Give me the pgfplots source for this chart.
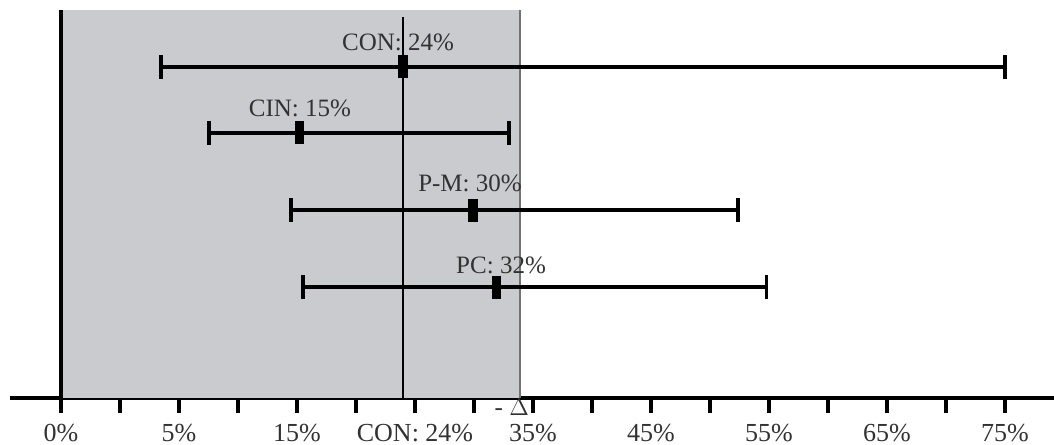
\documentclass[border=0pt]{standalone}
\usepackage{pgfplots}
\pgfplotsset{compat=1.18}
\usepackage{fontspec}
\setmainfont{Liberation Serif}
\definecolor{shade}{RGB}{202,203,206}
\definecolor{txt}{RGB}{50,50,50}
\begin{document}
\begin{tikzpicture}
\fontsize{12.5}{15}\selectfont
\begin{axis}[
  x=5.9pt, y=0.5pt,
  xmin=-9.32, xmax=79.15, ymin=46, ymax=434,
  axis x line=bottom, axis y line=none,
  x axis line style={-, line width=1.7pt},
  xtick={-5,0,...,75},
  xticklabels={0\%,,5\%,,15\%,,CON: 24\%,,35\%,,45\%,,55\%,,65\%,,75\%},
  tick align=outside,
  major tick length=7.5pt,
  xtick style={line width=1.7pt, black},
  xticklabel style={font=\fontsize{13}{15}\selectfont, text=txt, yshift=-1pt},
  clip=false,
]
\addplot[fill=shade, draw=none] coordinates {(-5,46) (33.9,46) (33.9,434) (-5,434)} -- cycle;
\addplot[black!55, line width=0.7pt] coordinates {(33.9,46) (33.9,434)};
\addplot[black, line width=1.6pt] coordinates {(-5,46) (-5,434)};
\addplot[black, line width=1.2pt] coordinates {(24,46) (24,427)};

% confidence intervals (lower, upper)
\addplot[black, line width=1.6pt, mark=|, mark size=6pt] coordinates {(3.47,377) (75,377)};
\addplot[black, line width=1.6pt, mark=|, mark size=6pt] coordinates {(7.54,311) (32.97,311)};
\addplot[black, line width=1.6pt, mark=|, mark size=6pt] coordinates {(14.49,234) (52.37,234)};
\addplot[black, line width=1.6pt, mark=|, mark size=6pt] coordinates {(15.5,157) (54.8,157)};

% point estimates
\addplot[black, only marks, mark=|, mark options={line width=4.8pt, mark size=5.75pt}]
  coordinates {(24,377) (15.2,311) (29.9,234) (31.9,157)};

\node[text=txt] at (axis cs:23.56,402) {CON: 24\%};
\node[text=txt] at (axis cs:15.25,336) {CIN: 15\%};
\node[text=txt] at (axis cs:29.66,261) {P-M: 30\%};
\node[text=txt] at (axis cs:32.29,179) {PC: 32\%};
\node[text=txt, inner sep=0pt] at (axis cs:33.2,37) {- $\Delta$};

\coordinate (bl) at (axis cs:-10.17,0);
\coordinate (tr) at (axis cs:79.15,444);
\end{axis}
\pgfresetboundingbox
\path[use as bounding box] (bl) rectangle (tr);
\end{tikzpicture}
\end{document}
